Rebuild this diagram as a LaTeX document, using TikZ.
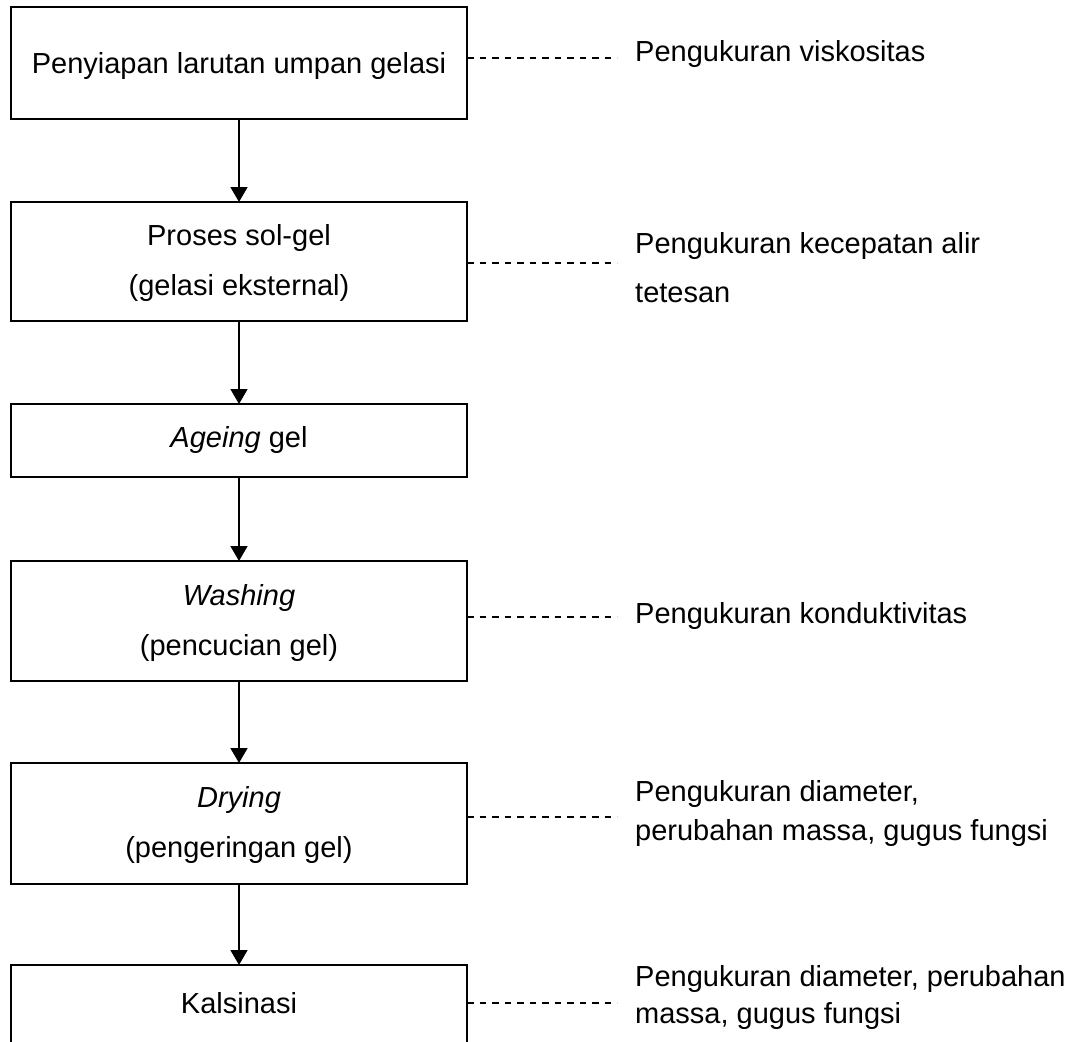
\documentclass[tikz,border=0pt]{standalone}
\usepackage{fontspec}
\setmainfont{Liberation Sans}
\usetikzlibrary{arrows.meta}
\begin{document}
\begin{tikzpicture}[x=1pt,y=-1pt,
  box/.style={draw, line width=2pt, minimum width=456pt, inner sep=0pt, outer sep=0pt},
  txt/.style={anchor=base, inner sep=0pt, font=\fontsize{29}{34}\selectfont},
  lbl/.style={anchor=base west, inner sep=0pt, font=\fontsize{29}{34}\selectfont},
  flow/.style={line width=1.6pt, -{Triangle[width=17pt,length=15pt]}},
  link/.style={line width=1.8pt, dash pattern=on 6.5pt off 6pt}]
\clip (0,0) rectangle (1075,1041);
\fill[white] (0,0) rectangle (1075,1041);
% boxes
\node[box, minimum height=112pt] (b1) at (239,63) {};
\node[box, minimum height=119pt] (b2) at (239,261.5) {};
\node[box, minimum height=73pt] (b3) at (239,440.5) {};
\node[box, minimum height=120pt] (b4) at (239,621) {};
\node[box, minimum height=121pt] (b5) at (239,823.5) {};
\node[box, minimum height=100pt] (b6) at (239,1015) {};
% box texts
\node[txt] (t1) at (239,74) {Penyiapan larutan umpan gelasi};
\node[txt] (t2a) at (239,245) {Proses sol-gel};
\node[txt] (t2b) at (239,295) {(gelasi eksternal)};
\node[txt] (t3) at (239,447) {\textit{Ageing} gel};
\node[txt] (t4a) at (239,605) {\textit{Washing}};
\node[txt] (t4b) at (239,655) {(pencucian gel)};
\node[txt] (t5a) at (239,807) {\textit{Drying}};
\node[txt] (t5b) at (239,857) {(pengeringan gel)};
\node[txt] (t6) at (239,1013) {Kalsinasi};
% arrows
\draw[flow] (b1) -- (b2);
\draw[flow] (b2) -- (b3);
\draw[flow] (b3) -- (b4);
\draw[flow] (b4) -- (b5);
\draw[flow] (b5) -- (b6);
% dashed links
\coordinate (d1) at (617,58);
\coordinate (d2) at (617,263);
\coordinate (d4) at (617,617);
\coordinate (d5) at (617,817);
\coordinate (d6) at (617,1003);
\draw[link] (d1 -| b1.east) -- (d1);
\draw[link] (d2 -| b2.east) -- (d2);
\draw[link] (d4 -| b4.east) -- (d4);
\draw[link] (d5 -| b5.east) -- (d5);
\draw[link] (d6 -| b6.east) -- (d6);
% labels
\node[lbl] (l1) at (635,61) {Pengukuran viskositas};
\node[lbl] (l2a) at (635,253) {Pengukuran kecepatan alir};
\node[lbl] (l2b) at (635,302) {tetesan};
\node[lbl] (l4) at (635,623) {Pengukuran konduktivitas};
\node[lbl] (l5a) at (635,801) {Pengukuran diameter,};
\node[lbl] (l5b) at (635,840) {perubahan massa, gugus fungsi};
\node[lbl] (l6a) at (635,986) {Pengukuran diameter, perubahan};
\node[lbl] (l6b) at (635,1023) {massa, gugus fungsi};
\end{tikzpicture}
\end{document}
